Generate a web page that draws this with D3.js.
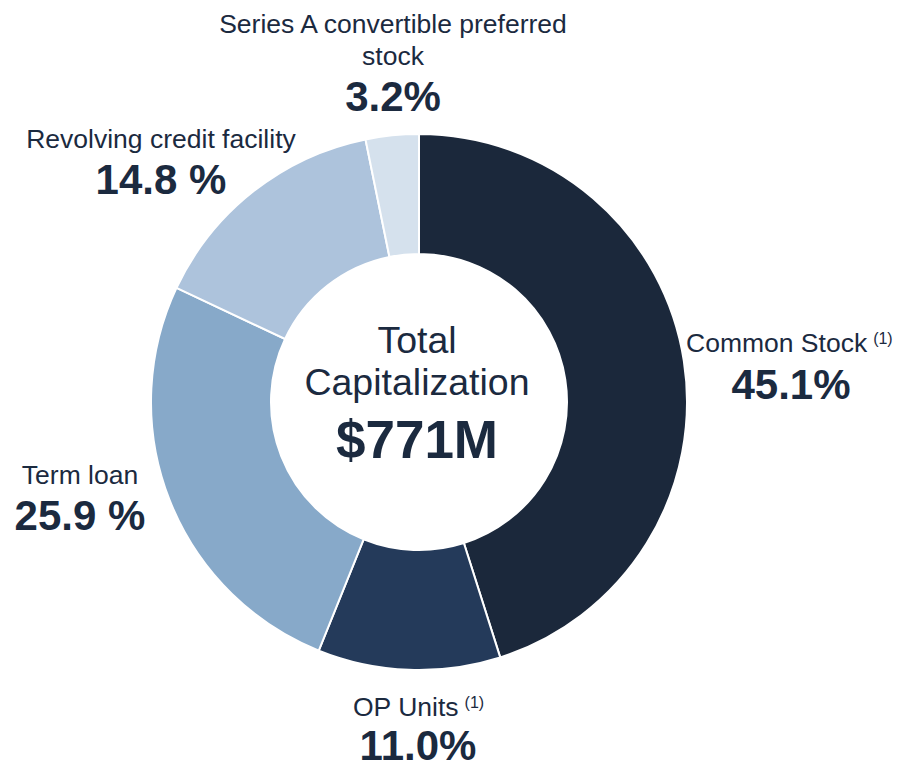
<!DOCTYPE html>
<html>
<head>
<meta charset="utf-8">
<script src="https://cdn.jsdelivr.net/npm/d3@7"></script>
<style>
  body { margin: 0; background: #fff; }
  text { font-family: "Liberation Sans", Arial, sans-serif; fill: #1b2a3f; }
</style>
</head>
<body>
<svg width="900" height="765"></svg>
<script>
  const categories = ['Common Stock', 'OP Units', 'Term loan', 'Revolving credit facility', 'Series A convertible preferred stock'];
  const shares = [45.1, 11.0, 25.9, 14.8, 3.2];
  const shareLabels = ['45.1%', '11.0%', '25.9 %', '14.8 %', '3.2%'];
  const colors = ['#1b283b', '#243a5a', '#87a9c9', '#adc3dc', '#d5e1ed'];

  const svg = d3.select('svg');
  const cx = 419, cy = 402;

  const pie = d3.pie().sort(null).value(d => d.v);
  const arc = d3.arc().innerRadius(148).outerRadius(268);
  const data = categories.map((c, i) => ({ c, v: shares[i] }));

  const g = svg.append('g').attr('transform', `translate(${cx},${cy})`);
  g.selectAll('path').data(pie(data))
    .enter().append('path')
      .attr('d', arc)
      .attr('fill', (d, i) => colors[i])
      .attr('stroke', '#fff')
      .attr('stroke-width', 2);

  // label layout: name lines (with footnote flag) and the percentage
  const labels = [
    { x: 791, nx: 686, lines: [['Common Stock', true]], y: 352, py: 399 },
    { x: 418, nx: 353, lines: [['OP Units', true]], y: 716, py: 760 },
    { x: 80, lines: [['Term loan', false]], y: 484, py: 530 },
    { x: 161, lines: [['Revolving credit facility', false]], y: 148, py: 194 },
    { x: 393, lines: [['Series A convertible preferred', false], ['stock', false]], y: 33, py: 111 }
  ];

  labels.forEach((l, i) => {
    l.lines.forEach(([txt, note], j) => {
      const t = svg.append('text')
        .attr('y', l.y + j * 32)
        .attr('font-size', 26.5)
        .text(txt);
      if (note) {
        t.attr('x', l.nx).attr('text-anchor', 'start');
        t.append('tspan').attr('dx', 6).attr('dy', -8).attr('font-size', 16).text('(1)');
      } else {
        t.attr('x', l.x).attr('text-anchor', 'middle');
      }
    });
    svg.append('text')
      .attr('x', l.x).attr('y', l.py)
      .attr('text-anchor', 'middle')
      .attr('font-size', 42)
      .attr('font-weight', 'bold')
      .text(shareLabels[i]);
  });

  svg.append('text').attr('x', 417).attr('y', 353).attr('text-anchor', 'middle')
    .attr('font-size', 37.5).text('Total');
  svg.append('text').attr('x', 417).attr('y', 395).attr('text-anchor', 'middle')
    .attr('font-size', 37.5).text('Capitalization');
  svg.append('text').attr('x', 417).attr('y', 458).attr('text-anchor', 'middle')
    .attr('font-size', 53).attr('font-weight', 'bold').text('$771M');
</script>
</body>
</html>
